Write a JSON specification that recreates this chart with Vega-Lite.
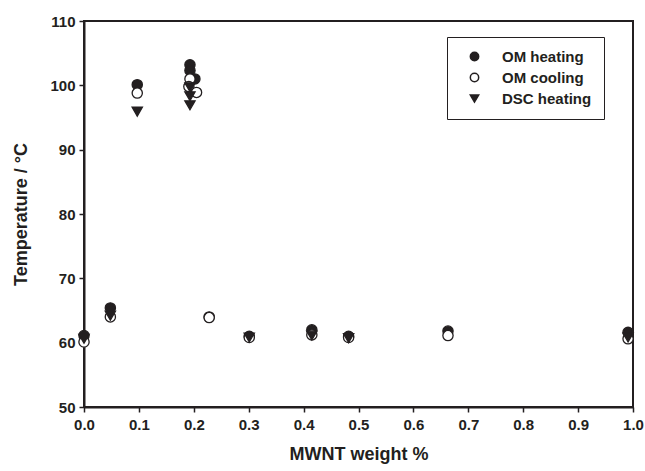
{
  "$schema": "https://vega.github.io/schema/vega-lite/v6.json",
  "width": 549,
  "height": 386,
  "autosize": "none",
  "padding": {"left": 84, "top": 21, "right": 12, "bottom": 64},
  "background": "white",
  "config": {
    "font": "Liberation Sans",
    "view": {"stroke": "#231f20", "strokeWidth": 2},
    "axis": {
      "grid": false,
      "domainColor": "#231f20",
      "domainWidth": 2,
      "tickColor": "#231f20",
      "tickWidth": 1.5,
      "tickSize": 5,
      "labelFont": "Liberation Sans",
      "labelFontWeight": "bold",
      "labelFontSize": 15,
      "labelColor": "#231f20",
      "titleFont": "Liberation Sans",
      "titleFontWeight": "bold",
      "titleFontSize": 18,
      "titleColor": "#231f20"
    },
    "legend": {
      "strokeColor": "#231f20",
      "fillColor": "white",
      "padding": 12,
      "symbolOffset": 8,
      "labelOffset": 20,
      "labelFont": "Liberation Sans",
      "labelFontWeight": "bold",
      "labelFontSize": 15,
      "labelColor": "#231f20",
      "symbolSize": 70,
      "rowPadding": 5
    }
  },
  "data": {
    "values": [
      {"series": "OM heating", "x": 0.0, "y": 61.1},
      {"series": "OM heating", "x": 0.048, "y": 65.4},
      {"series": "OM heating", "x": 0.097, "y": 100.1},
      {"series": "OM heating", "x": 0.193, "y": 103.2},
      {"series": "OM heating", "x": 0.193, "y": 102.3},
      {"series": "OM heating", "x": 0.202, "y": 101.0},
      {"series": "OM heating", "x": 0.228, "y": 64.0},
      {"series": "OM heating", "x": 0.301, "y": 61.0},
      {"series": "OM heating", "x": 0.415, "y": 62.0},
      {"series": "OM heating", "x": 0.482, "y": 61.0},
      {"series": "OM heating", "x": 0.663, "y": 61.8},
      {"series": "OM heating", "x": 0.991, "y": 61.6},
      {"series": "OM cooling", "x": 0.0, "y": 60.1},
      {"series": "OM cooling", "x": 0.048, "y": 64.0},
      {"series": "OM cooling", "x": 0.097, "y": 98.8},
      {"series": "OM cooling", "x": 0.193, "y": 101.0},
      {"series": "OM cooling", "x": 0.191, "y": 99.8},
      {"series": "OM cooling", "x": 0.205, "y": 98.9},
      {"series": "OM cooling", "x": 0.228, "y": 63.9},
      {"series": "OM cooling", "x": 0.301, "y": 60.8},
      {"series": "OM cooling", "x": 0.415, "y": 61.2},
      {"series": "OM cooling", "x": 0.482, "y": 60.8},
      {"series": "OM cooling", "x": 0.663, "y": 61.1},
      {"series": "OM cooling", "x": 0.991, "y": 60.6},
      {"series": "DSC heating", "x": 0.0, "y": 60.6},
      {"series": "DSC heating", "x": 0.048, "y": 64.2},
      {"series": "DSC heating", "x": 0.097, "y": 95.9},
      {"series": "DSC heating", "x": 0.193, "y": 99.7},
      {"series": "DSC heating", "x": 0.193, "y": 98.3},
      {"series": "DSC heating", "x": 0.193, "y": 96.9},
      {"series": "DSC heating", "x": 0.301, "y": 60.8},
      {"series": "DSC heating", "x": 0.415, "y": 61.1},
      {"series": "DSC heating", "x": 0.482, "y": 60.7},
      {"series": "DSC heating", "x": 0.991, "y": 60.8}
    ]
  },
  "mark": {"type": "point", "filled": true, "stroke": "#231f20", "strokeWidth": 1.3, "opacity": 1},
  "encoding": {
    "x": {
      "field": "x", "type": "quantitative",
      "scale": {"domain": [0, 1], "nice": false, "zero": false},
      "axis": {"values": [0, 0.1, 0.2, 0.3, 0.4, 0.5, 0.6, 0.7, 0.8, 0.9, 1.0], "format": ".1f", "labelPadding": 5, "title": "MWNT weight %", "titlePadding": 13, "labelFlush": false}
    },
    "y": {
      "field": "y", "type": "quantitative",
      "scale": {"domain": [50, 110], "nice": false, "zero": false},
      "axis": {"values": [50, 60, 70, 80, 90, 100, 110], "labelPadding": 4, "title": "Temperature / °C", "titlePadding": 19}
    },
    "shape": {
      "field": "series", "type": "nominal",
      "scale": {"domain": ["OM heating", "OM cooling", "DSC heating"], "range": ["circle", "circle", "triangle-down"]},
      "legend": {"title": null, "orient": "none", "legendX": 363, "legendY": 16,
        "encode": {"symbols": {"update": {"stroke": {"value": "#231f20"}, "strokeWidth": {"value": 1.2}}}}}
    },
    "fill": {
      "field": "series", "type": "nominal",
      "scale": {"domain": ["OM heating", "OM cooling", "DSC heating"], "range": ["#231f20", "white", "#231f20"]},
      "legend": {"title": null, "orient": "none", "legendX": 363, "legendY": 16,
        "encode": {"symbols": {"update": {"stroke": {"value": "#231f20"}, "strokeWidth": {"value": 1.2}}}}}
    },
    "size": {"value": 105}
  }
}
